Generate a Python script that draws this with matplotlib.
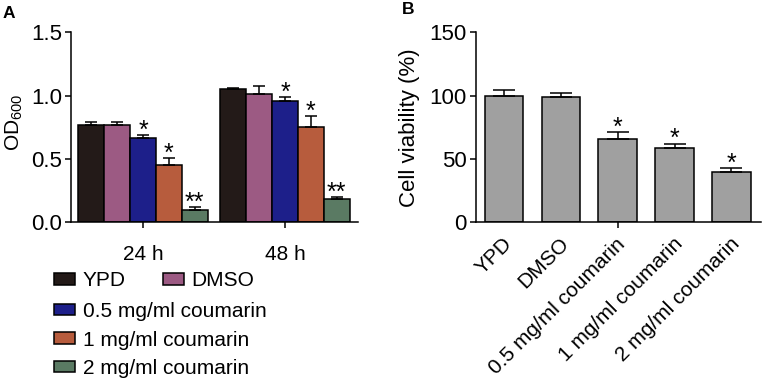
import matplotlib
matplotlib.use("Agg")
import matplotlib.pyplot as plt
import matplotlib.transforms as mtransforms
from matplotlib.patches import Patch
import numpy as np

plt.rcParams['font.family'] = ['Liberation Sans', 'DejaVu Sans']
plt.rcParams['mathtext.fontset'] = 'custom'
plt.rcParams['mathtext.rm'] = 'Liberation Sans'
plt.rcParams['mathtext.default'] = 'regular'

# ---- Data panel A ----
groups = ["24 h", "48 h"]
series = ["YPD", "DMSO", "0.5 mg/ml coumarin", "1 mg/ml coumarin", "2 mg/ml coumarin"]
colors_a = ["#231a18", "#9c5a83", "#1d1f8a", "#b75c3d", "#5a7a63"]
od_mean = [[0.77, 1.05],
           [0.77, 1.01],
           [0.665, 0.96],
           [0.455, 0.755],
           [0.097, 0.184]]
od_err = [[0.025, 0.012],
          [0.022, 0.07],
          [0.022, 0.03],
          [0.055, 0.085],
          [0.023, 0.013]]
od_sig = [["", ""], ["", ""], ["*", "*"], ["*", "*"], ["**", "**"]]

# ---- Data panel B ----
cats_b = ["YPD", "DMSO", "0.5 mg/ml coumarin", "1 mg/ml coumarin", "2 mg/ml coumarin"]
via_mean = [100, 98.6, 65.9, 58.8, 39.6]
via_err = [4.2, 3.7, 5.5, 3.4, 2.9]
via_sig = ["", "", "*", "*", "*"]

W, H = 765, 385
fig = plt.figure(figsize=(W / 100, H / 100), dpi=100)

def fax(l, t, r, b):
    return fig.add_axes([l / W, 1 - b / H, (r - l) / W, (b - t) / H])

axA = fax(71, 32.3, 358, 222.3)
axB = fax(475.5, 32.3, 761, 222.3)

lw = 1.1
for ax in (axA, axB):
    for s in ("top", "right"):
        ax.spines[s].set_visible(False)
    for s in ("left", "bottom"):
        ax.spines[s].set_linewidth(lw)
    ax.tick_params(width=lw, length=4.5, labelsize=16, pad=2)

star_kw = dict(xytext=(0, -2), textcoords="offset points", ha="center",
               va="baseline", fontsize=18)

# Panel A
bw = 0.182
x = np.arange(len(groups))
for i, name in enumerate(series):
    pos = x + (i - 2) * bw
    axA.bar(pos, od_mean[i], width=bw, color=colors_a[i], edgecolor="black",
            linewidth=lw, label=name, zorder=2)
    axA.errorbar(pos, od_mean[i], yerr=[[0] * len(groups), od_err[i]], fmt="none",
                 ecolor="black", elinewidth=lw, capsize=4.5, capthick=lw, zorder=3)
    for j in range(len(groups)):
        if od_sig[i][j]:
            axA.annotate(od_sig[i][j], (pos[j], od_mean[i][j] + od_err[i][j]), **star_kw)
axA.set_xlim(-0.507, 1.514)
axA.set_ylim(0, 1.5)
axA.set_yticks([0, 0.5, 1.0, 1.5])
axA.set_yticklabels(["0.0", "0.5", "1.0", "1.5"])
axA.set_xticks(x)
axA.set_xticklabels(groups, fontsize=15)
axA.tick_params(axis="x", pad=12)
axA.set_ylabel("OD$_{600}$", fontsize=15)
axA.yaxis.set_label_coords(-0.162, 0.525)

h = [Patch(facecolor=c, edgecolor="black", linewidth=lw) for c in colors_a]
leg_kw = dict(frameon=False, fontsize=15, handlelength=1.0, handleheight=0.45,
              handletextpad=0.38, borderpad=0, borderaxespad=0, labelspacing=0.45)
leg1 = fig.legend(h[:2], series[:2], ncol=2, columnspacing=1.78, loc="center left",
                  bbox_to_anchor=(54 / W, 1 - 281 / H), **leg_kw)
leg2 = fig.legend(h[2:], series[2:], ncol=1, loc="center left",
                  bbox_to_anchor=(54 / W, 1 - 340 / H), **leg_kw)

# Panel B
xb = np.arange(len(cats_b))
axB.bar(xb, via_mean, width=0.675, color="#a0a0a0", edgecolor="black", linewidth=lw, zorder=2)
axB.errorbar(xb, via_mean, yerr=[[0] * len(xb), via_err], fmt="none", ecolor="black",
             elinewidth=lw, capsize=8, capthick=lw, zorder=3)
for i in range(len(xb)):
    if via_sig[i]:
        axB.annotate(via_sig[i], (xb[i], via_mean[i] + via_err[i]), **star_kw)
axB.set_xlim(-0.5, 4.52)
axB.set_ylim(0, 150)
axB.set_yticks([0, 50, 100, 150])
axB.set_xticks(xb)
axB.set_xticklabels(cats_b, rotation=45, ha="right", rotation_mode="anchor", fontsize=15, va="center")
axB.tick_params(axis="x", pad=9)
off = mtransforms.ScaledTranslation(5 / 100, 0, fig.dpi_scale_trans)
for lab in axB.get_xticklabels():
    lab.set_transform(lab.get_transform() + off)
for i, t in enumerate(axB.xaxis.get_major_ticks()):
    t.tick1line.set_visible(i == 2)
axB.set_ylabel("Cell viability (%)", fontsize=16)
axB.yaxis.set_label_coords(-0.196, 0.5)

fig.text(3 / W, 1 - 13 / H, "A", fontsize=12.5, fontweight="bold", va="center")
fig.text(402 / W, 1 - 10 / H, "B", fontsize=12.5, fontweight="bold", va="center")

fig.savefig("out.png", dpi=100)
